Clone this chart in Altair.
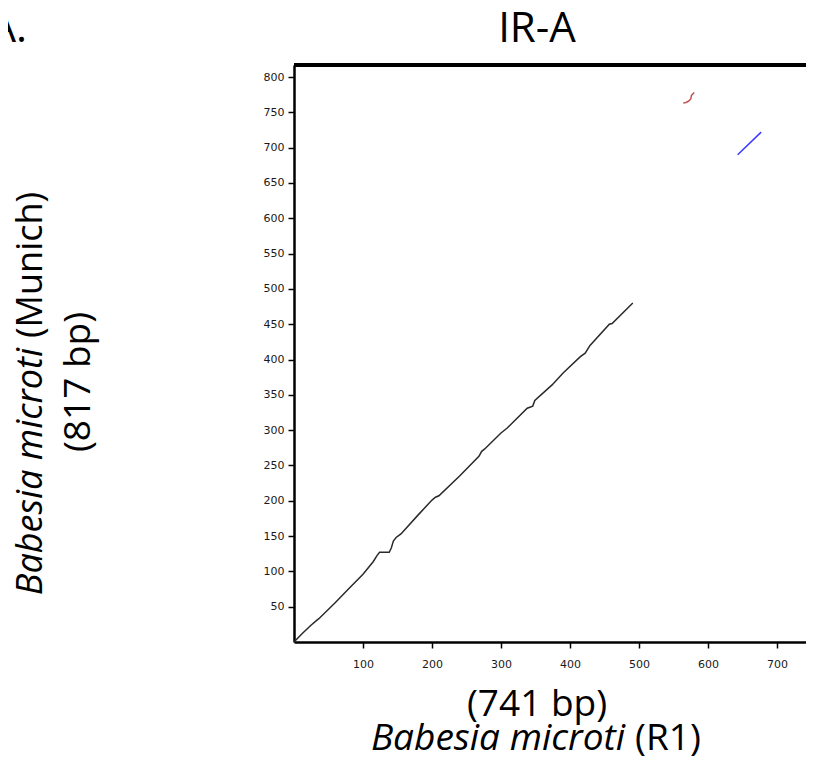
import altair as alt
import pandas as pd

# ---- data ----
main_x = [0, 12, 25, 32, 36, 60, 80, 100, 115, 120, 124, 138, 141, 144, 148, 155, 180, 200, 205,
          210, 240, 268, 272, 276, 300, 309, 338, 346, 349, 374, 390, 415, 422, 429, 457, 461, 491]
main_y = [0, 12, 24, 30, 33, 56, 76, 96, 114, 122, 127, 127, 133, 143, 148, 153, 180, 201, 205,
          207, 235, 263, 270, 273, 296, 303, 331, 334, 342, 364, 381, 404, 409, 420, 450, 451, 480]
red_x = [564, 568, 572, 575, 576, 580]
red_y = [763, 764, 766, 769, 774, 778]
blue_x = [643, 677]
blue_y = [690, 722]

x_ticks = [100, 200, 300, 400, 500, 600, 700]
y_ticks = [50, 100, 150, 200, 250, 300, 350, 400, 450, 500, 550, 600, 650, 700, 750, 800]

series_names = ["main", "red", "blue"]
series_colors = ["#2a2a2a", "#c05555", "#3838ff"]

rows = []
for name, xs, ys in [("main", main_x, main_y), ("red", red_x, red_y), ("blue", blue_x, blue_y)]:
    for i, (a, b) in enumerate(zip(xs, ys)):
        rows.append({"series": name, "i": i, "x": a, "y": b})
df = pd.DataFrame(rows)

W, H = 512, 577
TXT = "Open Sans"

lines = alt.Chart(df).mark_line(strokeWidth=1.5).encode(
    x=alt.X("x:Q", scale=alt.Scale(domain=[0, 742], nice=False, zero=False),
            axis=alt.Axis(values=x_ticks, title=None, grid=False)),
    y=alt.Y("y:Q", scale=alt.Scale(domain=[0, 817], nice=False, zero=False),
            axis=alt.Axis(values=y_ticks, title=None, grid=False)),
    color=alt.Color("series:N", scale=alt.Scale(domain=series_names, range=series_colors), legend=None),
    detail="series:N",
    order="i:Q",
)

top_border = alt.Chart(df).mark_rule(color="black", strokeWidth=2.5).encode(
    x=alt.value(0), x2=alt.value(W), y=alt.value(0)
)

def txt(text, x, y, size, style="normal", align="center", angle=0):
    kw = dict(text=text, font=TXT, fontSize=size, fontStyle=style, align=align,
              baseline="alphabetic", color="black")
    if angle:
        kw["angle"] = angle
    return alt.Chart(df.head(1)).mark_text(**kw).encode(x=alt.value(x), y=alt.value(y))

texts = [
    txt("IR-A", 243, -23, 42),
    txt("A.", -267, -23, 42, align="right"),
    txt("(741 bp)", 243, 651, 37),
    txt("Babesia microti", 331, 685, 37, style="italic", align="right"),
    txt("(R1)", 341, 685, 37, align="left"),
    txt("Babesia microti", -252, 283, 36, style="italic", align="right", angle=270),
    txt("(Munich)", -252, 273, 36, align="left", angle=270),
    txt("(817 bp)", -204, 317, 37, angle=270),
]

chart = alt.layer(lines, top_border, *texts).properties(
    width=W, height=H,
    autosize=alt.AutoSizeParams(type="none"),
    padding={"left": 286, "top": 57, "right": 0, "bottom": 116},
).configure_view(stroke=None).configure_axis(
    domainColor="black", domainWidth=2.5, tickColor="black", tickWidth=1.5, tickSize=6,
    labelFont="DejaVu Sans", labelFontSize=11, labelColor="#1a1a1a",
).configure_axisX(labelPadding=10).configure_axisY(labelPadding=4)

chart.save("out.html", embed_options={"renderer": "svg", "actions": False})
